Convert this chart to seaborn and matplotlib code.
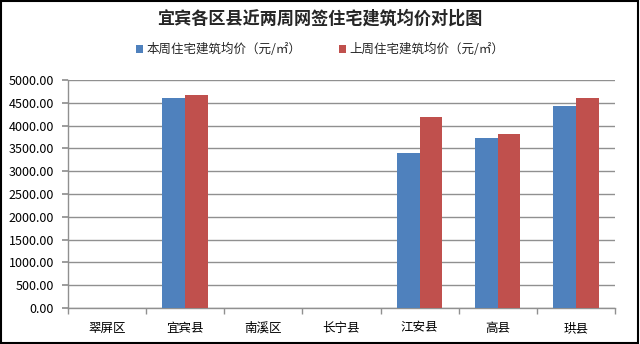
import matplotlib
matplotlib.use("Agg")
import matplotlib.pyplot as plt
import seaborn as sns
import pandas as pd
import numpy as np
from matplotlib.ticker import FixedLocator, FuncFormatter

categories = ["翠屏区", "宜宾县", "南溪区", "长宁县", "江安县", "高县", "珙县"]
this_week = [0, 4600, 0, 0, 3390, 3725, 4440]
last_week = [0, 4680, 0, 0, 4195, 3815, 4600]
series_names = ["本周住宅建筑均价（元/㎡）", "上周住宅建筑均价（元/㎡）"]
colors = ["#4F81BD", "#C0504D"]

sns.set_theme(style="white")
plt.rcParams["font.family"] = ["Noto Sans CJK SC", "DejaVu Sans"]

df = pd.DataFrame({
    "cat": categories * 2,
    "val": this_week + last_week,
    "series": [series_names[0]] * len(categories) + [series_names[1]] * len(categories),
})

fig = plt.figure(figsize=(6.4, 3.44), dpi=100)
ax = fig.add_axes([0.106, 0.105, 0.855, 0.662])
sns.barplot(data=df, x="cat", y="val", hue="series", palette=colors,
            width=0.58, gap=0, saturation=1, ax=ax, legend=True, zorder=3,
            linewidth=0, edgecolor="none")

ax.set_ylim(0, 5000)
ax.set_xlim(-0.5, 6.5)
ax.yaxis.set_major_locator(FixedLocator(np.arange(0, 5001, 500)))
ax.yaxis.set_major_formatter(FuncFormatter(lambda v, p: f"{v:.2f}"))
ax.grid(axis="y", color="#909090", linewidth=1, zorder=0)
ax.set_axisbelow(True)
ax.set_xlabel("")
ax.set_ylabel("")
for s in ["top", "right"]:
    ax.spines[s].set_visible(False)
for s in ["left", "bottom"]:
    ax.spines[s].set_color("#909090")
    ax.spines[s].set_linewidth(1)
ax.tick_params(axis="y", left=True, length=4, color="#909090", labelsize=9, pad=6, labelcolor="#000000")
ax.tick_params(axis="x", which="major", bottom=False, labelsize=9, pad=4, labelcolor="#000000")
ax.set_xticks(np.arange(-0.5, 7.0, 1.0), minor=True)
ax.tick_params(axis="x", which="minor", bottom=True, length=4, color="#909090", direction="out")

handles, labels = ax.get_legend_handles_labels()
ax.legend(handles, labels, loc="center", bbox_to_anchor=(0.5, 0.855),
          bbox_transform=fig.transFigure, ncol=2, frameon=False,
          fontsize=9, handlelength=0.6, handleheight=0.6, handletextpad=0.25,
          columnspacing=3)

fig.text(0.5, 0.945, "宜宾各区县近两周网签住宅建筑均价对比图", ha="center", va="center",
         fontsize=12.3, fontweight="bold")

fig.patches.append(plt.Rectangle((0.002, 0.003), 0.995, 0.994, transform=fig.transFigure,
                                 fill=False, edgecolor="#000000", linewidth=1.5))
fig.savefig("out.png", dpi=100)
